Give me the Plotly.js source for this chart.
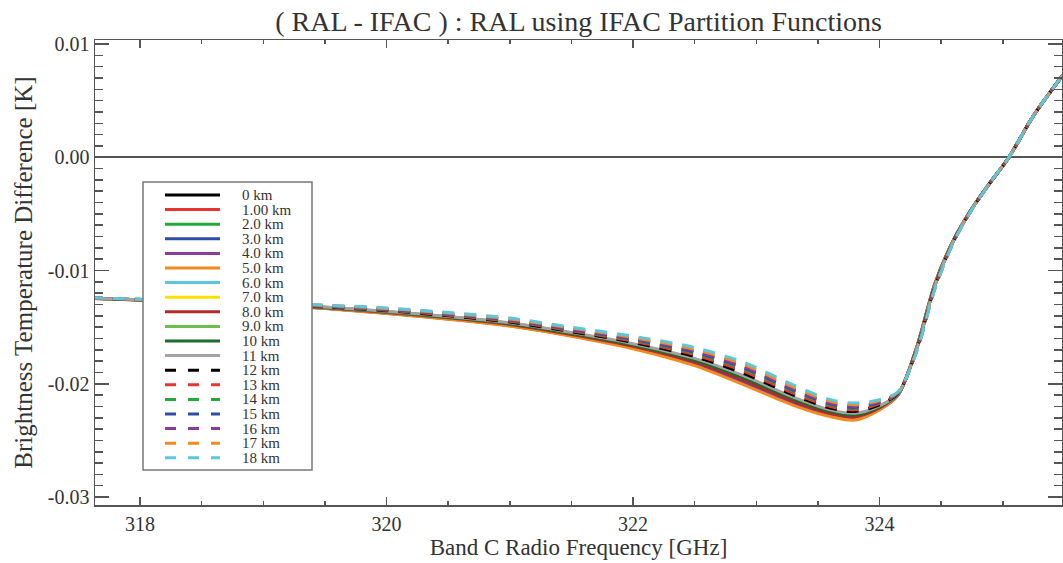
<!DOCTYPE html>
<html><head><meta charset="utf-8">
<script src="https://cdn.plot.ly/plotly-3.0.1.min.js"></script>
<style>html,body{margin:0;padding:0;background:#fff;} #chart{width:1063px;height:563px;}</style>
</head><body><div id="chart"></div>
<script>
// Frequency grid (GHz)
const freqGHz = [317.6, 318.5, 319.0, 319.5, 320.0, 320.5, 321.0, 321.5, 322.0, 322.5, 322.9, 323.3, 323.6, 323.8, 324.0, 324.15, 324.3, 324.45, 324.6, 324.75, 324.9, 325.05, 325.25, 325.5];

// Brightness temperature difference (K) per altitude
const alt0km  = [-0.01244,-0.01278,-0.01297,-0.01329,-0.01370,-0.01418,-0.01476,-0.01564,-0.01668,-0.01808,-0.01970,-0.02154,-0.02260,-0.02290,-0.02212,-0.02094,-0.01688,-0.01120,-0.00734,-0.00452,-0.00220,0.00000,0.00370,0.00745];
const alt1km  = [-0.01244,-0.01279,-0.01298,-0.01331,-0.01373,-0.01421,-0.01480,-0.01568,-0.01674,-0.01816,-0.01980,-0.02163,-0.02268,-0.02298,-0.02217,-0.02096,-0.01686,-0.01118,-0.00733,-0.00452,-0.00220,0.00000,0.00370,0.00745];
const alt2km  = [-0.01243,-0.01277,-0.01295,-0.01325,-0.01363,-0.01409,-0.01466,-0.01552,-0.01652,-0.01784,-0.01940,-0.02127,-0.02238,-0.02268,-0.02199,-0.02090,-0.01694,-0.01128,-0.00737,-0.00454,-0.00220,0.00000,0.00370,0.00745];
const alt3km  = [-0.01245,-0.01279,-0.01299,-0.01332,-0.01375,-0.01424,-0.01483,-0.01572,-0.01679,-0.01824,-0.01990,-0.02172,-0.02275,-0.02305,-0.02221,-0.02097,-0.01684,-0.01115,-0.00732,-0.00451,-0.00220,0.00000,0.00370,0.00745];
const alt4km  = [-0.01245,-0.01280,-0.01299,-0.01334,-0.01378,-0.01427,-0.01487,-0.01576,-0.01685,-0.01832,-0.02000,-0.02181,-0.02283,-0.02313,-0.02226,-0.02099,-0.01682,-0.01113,-0.00731,-0.00451,-0.00220,0.00000,0.00370,0.00745];
const alt5km  = [-0.01245,-0.01280,-0.01300,-0.01335,-0.01380,-0.01430,-0.01490,-0.01580,-0.01690,-0.01840,-0.02010,-0.02190,-0.02290,-0.02320,-0.02230,-0.02100,-0.01680,-0.01110,-0.00730,-0.00450,-0.00220,0.00000,0.00370,0.00745];
const alt6km  = [-0.01244,-0.01278,-0.01296,-0.01328,-0.01368,-0.01415,-0.01473,-0.01560,-0.01663,-0.01800,-0.01960,-0.02145,-0.02253,-0.02283,-0.02208,-0.02093,-0.01690,-0.01123,-0.00735,-0.00453,-0.00220,0.00000,0.00370,0.00745];
const alt7km  = [-0.01244,-0.01277,-0.01296,-0.01326,-0.01365,-0.01412,-0.01469,-0.01556,-0.01657,-0.01792,-0.01950,-0.02136,-0.02245,-0.02275,-0.02203,-0.02091,-0.01692,-0.01125,-0.00736,-0.00453,-0.00220,0.00000,0.00370,0.00745];
const alt8km  = [-0.01244,-0.01278,-0.01297,-0.01329,-0.01370,-0.01418,-0.01476,-0.01564,-0.01668,-0.01808,-0.01970,-0.02154,-0.02260,-0.02290,-0.02212,-0.02094,-0.01688,-0.01120,-0.00734,-0.00452,-0.00220,0.00000,0.00370,0.00745];
const alt9km  = [-0.01243,-0.01277,-0.01295,-0.01325,-0.01363,-0.01409,-0.01466,-0.01552,-0.01652,-0.01784,-0.01940,-0.02127,-0.02238,-0.02268,-0.02199,-0.02090,-0.01694,-0.01128,-0.00737,-0.00454,-0.00220,0.00000,0.00370,0.00745];
const alt10km = [-0.01244,-0.01277,-0.01296,-0.01326,-0.01365,-0.01412,-0.01469,-0.01556,-0.01657,-0.01792,-0.01950,-0.02136,-0.02245,-0.02275,-0.02203,-0.02091,-0.01692,-0.01125,-0.00736,-0.00453,-0.00220,0.00000,0.00370,0.00745];
const alt11km = [-0.01243,-0.01276,-0.01294,-0.01323,-0.01360,-0.01406,-0.01462,-0.01548,-0.01646,-0.01776,-0.01930,-0.02118,-0.02230,-0.02260,-0.02194,-0.02088,-0.01696,-0.01130,-0.00738,-0.00454,-0.00220,0.00000,0.00370,0.00745];
const alt12km = [-0.01243,-0.01275,-0.01293,-0.01320,-0.01355,-0.01400,-0.01455,-0.01540,-0.01635,-0.01760,-0.01910,-0.02100,-0.02215,-0.02245,-0.02185,-0.02085,-0.01700,-0.01135,-0.00740,-0.00455,-0.00220,0.00000,0.00370,0.00745];
const alt13km = [-0.01242,-0.01274,-0.01291,-0.01317,-0.01350,-0.01394,-0.01448,-0.01532,-0.01624,-0.01744,-0.01890,-0.02082,-0.02200,-0.02230,-0.02176,-0.02082,-0.01704,-0.01140,-0.00742,-0.00456,-0.00220,0.00000,0.00370,0.00745];
const alt14km = [-0.01242,-0.01273,-0.01290,-0.01314,-0.01345,-0.01388,-0.01441,-0.01524,-0.01613,-0.01728,-0.01870,-0.02064,-0.02185,-0.02215,-0.02167,-0.02079,-0.01708,-0.01145,-0.00744,-0.00457,-0.00220,0.00000,0.00370,0.00745];
const alt15km = [-0.01241,-0.01273,-0.01289,-0.01313,-0.01343,-0.01385,-0.01438,-0.01520,-0.01608,-0.01720,-0.01860,-0.02055,-0.02178,-0.02208,-0.02163,-0.02078,-0.01710,-0.01148,-0.00745,-0.00458,-0.00220,0.00000,0.00370,0.00745];
const alt16km = [-0.01241,-0.01272,-0.01288,-0.01311,-0.01340,-0.01382,-0.01434,-0.01516,-0.01602,-0.01712,-0.01850,-0.02046,-0.02170,-0.02200,-0.02158,-0.02076,-0.01712,-0.01150,-0.00746,-0.00458,-0.00220,0.00000,0.00370,0.00745];
const alt17km = [-0.01241,-0.01271,-0.01287,-0.01308,-0.01335,-0.01376,-0.01427,-0.01508,-0.01591,-0.01696,-0.01830,-0.02028,-0.02155,-0.02185,-0.02149,-0.02073,-0.01716,-0.01155,-0.00748,-0.00459,-0.00220,0.00000,0.00370,0.00745];
const alt18km = [-0.01240,-0.01270,-0.01285,-0.01305,-0.01330,-0.01370,-0.01420,-0.01500,-0.01580,-0.01680,-0.01810,-0.02010,-0.02140,-0.02170,-0.02140,-0.02070,-0.01720,-0.01160,-0.00750,-0.00460,-0.00220,0.00000,0.00370,0.00745];

const seriesNames = ['0 km','1.00 km','2.0 km','3.0 km','4.0 km','5.0 km','6.0 km','7.0 km','8.0 km','9.0 km','10 km','11 km','12 km','13 km','14 km','15 km','16 km','17 km','18 km'];
const seriesValues = [alt0km,alt1km,alt2km,alt3km,alt4km,alt5km,alt6km,alt7km,alt8km,alt9km,alt10km,alt11km,alt12km,alt13km,alt14km,alt15km,alt16km,alt17km,alt18km];
const seriesColors = ['#000000','#e8342f','#23a83c','#2f4ca6','#8b3b9c','#f28a1e','#5cc6da','#ffe100','#b42a2a','#6cbf48','#1e6b2d','#a3a3a3',
                      '#000000','#e8342f','#23a83c','#2f4ca6','#8b3b9c','#f28a1e','#5cc6da'];
const seriesDashed = [false,false,false,false,false,false,false,false,false,false,false,false,true,true,true,true,true,true,true];

const xTickVals = [318, 320, 322, 324];
const xTickText = ['318', '320', '322', '324'];
const yTickVals = [0.01, 0.00, -0.01, -0.02, -0.03];
const yTickText = ['0.01', '0.00', '-0.01', '-0.02', '-0.03'];

const FONT = 'Liberation Serif, Times New Roman, serif';
const AXC = '#555';
const TXC = '#333';
const DASH = '12px,10px';

const traces = seriesNames.map((n, i) => ({
  type: 'scatter', mode: 'lines', name: n,
  x: freqGHz, y: seriesValues[i],
  line: {color: seriesColors[i], width: 3, shape: 'spline', smoothing: 0.8, dash: seriesDashed[i] ? DASH : 'solid'},
  showlegend: false, hoverinfo: 'skip'
}));

// custom legend (pixel offsets from plot top-left)
const shapes = [{
  type: 'rect', xref: 'paper', yref: 'paper', xsizemode: 'pixel', ysizemode: 'pixel',
  xanchor: 0, yanchor: 1, x0: 48, x1: 217, y0: -142, y1: -430,
  fillcolor: '#ffffff', line: {color: '#777', width: 1.5}, layer: 'above'
}];
const annotations = [];
const rowStart = 155, rowStep = 14.6;
seriesNames.forEach((n, i) => {
  const dy = -(rowStart + i * rowStep);
  shapes.push({
    type: 'line', xref: 'paper', yref: 'paper', xsizemode: 'pixel', ysizemode: 'pixel',
    xanchor: 0, yanchor: 1, x0: 70, x1: 125, y0: dy, y1: dy,
    line: {color: seriesColors[i], width: 3, dash: seriesDashed[i] ? '11px,12px' : 'solid'}, layer: 'above'
  });
  annotations.push({
    xref: 'paper', yref: 'paper', x: 0, y: 1, xshift: 145, yshift: dy,
    xanchor: 'left', yanchor: 'middle', showarrow: false, text: n,
    font: {family: FONT, size: 15, color: TXC}
  });
});

const layout = {
  width: 1063, height: 563,
  margin: {l: 95, r: 1, t: 40, b: 58},
  paper_bgcolor: '#fff', plot_bgcolor: '#fff',
  font: {family: FONT, color: TXC},
  title: {text: '( RAL - IFAC ) : RAL using IFAC Partition Functions', x: 0.5, xref: 'paper', xanchor: 'center',
          y: 0.962, yref: 'container', yanchor: 'middle', font: {family: FONT, size: 28, color: TXC}},
  xaxis: {
    range: [317.635, 325.48], tickmode: 'array', tickvals: xTickVals, ticktext: xTickText,
    ticks: 'inside', ticklen: 8, tickwidth: 1.5, tickcolor: AXC,
    showline: true, linecolor: AXC, linewidth: 1.5, mirror: 'allticks',
    showgrid: false, zeroline: false,
    minor: {tickmode: 'linear', tick0: 318, dtick: 0.5, ticks: 'inside', ticklen: 4, tickwidth: 1.5, tickcolor: AXC, showgrid: false},
    tickfont: {family: FONT, size: 20, color: TXC},
    title: {text: 'Band C Radio Frequency [GHz]', font: {family: FONT, size: 23, color: TXC}, standoff: 5}
  },
  yaxis: {
    range: [-0.0307, 0.01035], tickmode: 'array', tickvals: yTickVals, ticktext: yTickText,
    ticks: 'inside', ticklen: 14, tickwidth: 1.5, tickcolor: AXC,
    showline: true, linecolor: AXC, linewidth: 1.5, mirror: 'allticks',
    showgrid: false, zeroline: true, zerolinecolor: AXC, zerolinewidth: 1.5,
    minor: {tickmode: 'linear', tick0: 0, dtick: 0.001, ticks: 'inside', ticklen: 8, tickwidth: 1.5, tickcolor: AXC, showgrid: false},
    tickfont: {family: FONT, size: 20, color: TXC},
    title: {text: 'Brightness Temperature Difference [K]', font: {family: FONT, size: 25, color: TXC}, standoff: 8}
  },
  shapes: shapes,
  annotations: annotations,
  showlegend: false
};

Plotly.newPlot('chart', traces, layout, {displayModeBar: false, staticPlot: true});
</script>
</body></html>
